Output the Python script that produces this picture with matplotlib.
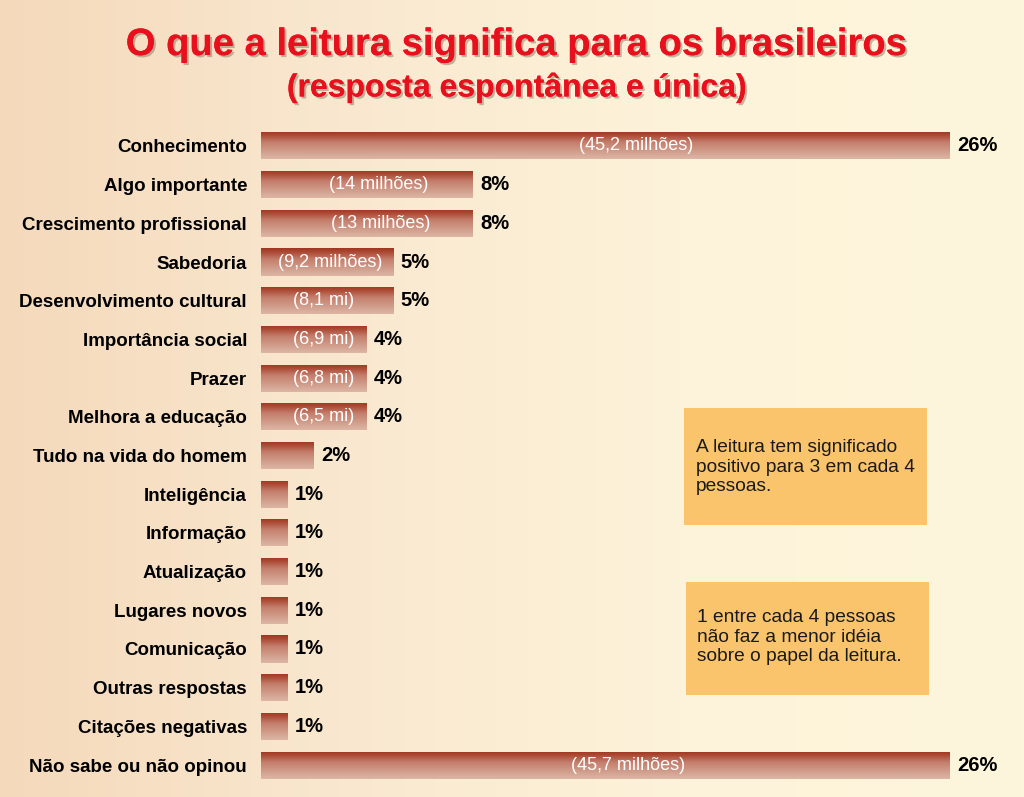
import numpy as np
import matplotlib.pyplot as plt
import matplotlib.patheffects as pe
from matplotlib.colors import LinearSegmentedColormap
from matplotlib.patches import Rectangle

# data
categories = ['Conhecimento', 'Algo importante', 'Crescimento profissional',
              'Sabedoria', 'Desenvolvimento cultural', 'Importância social',
              'Prazer', 'Melhora a educação', 'Tudo na vida do homem',
              'Inteligência', 'Informação', 'Atualização', 'Lugares novos',
              'Comunicação', 'Outras respostas', 'Citações negativas',
              'Não sabe ou não opinou']
percent = [26, 8, 8, 5, 5, 4, 4, 4, 2, 1, 1, 1, 1, 1, 1, 1, 26]
inner_labels = ['(45,2 milhões)', '(14 milhões)', '(13 milhões)', '(9,2 milhões)',
                '(8,1 mi)', '(6,9 mi)', '(6,8 mi)', '(6,5 mi)',
                '', '', '', '', '', '', '', '', '(45,7 milhões)']
# small nudges of the inner labels from the bar middle (style only)
inner_dx = [1.15, 0.45, 0.5, 0.1, -0.15, 0.35, 0.35, 0.35,
            0, 0, 0, 0, 0, 0, 0, 0, 0.85]

plt.rcParams['font.family'] = ['Liberation Sans', 'DejaVu Sans']

fig = plt.figure(figsize=(10.24, 7.97), dpi=100)

# background gradient
bg = fig.add_axes([0, 0, 1, 1], zorder=-10)
bg_cmap = LinearSegmentedColormap.from_list('bg', ['#f5d9bb', '#f9e8cf', '#fdf3da', '#fef6dc'])
bg.imshow(np.linspace(0, 1, 256)[None, :], cmap=bg_cmap, aspect='auto', extent=(0, 1, 0, 1))
bg.axis('off')

ax = fig.add_axes([261 / 1024, 1 - 784.4 / 797, (950 - 261) / 1024, (784.4 - 126.6) / 797])
ax.set_facecolor('none')

y = np.arange(len(categories))
bars = ax.barh(y, percent, height=0.7, color='none', edgecolor='none')

bar_cmap = LinearSegmentedColormap.from_list(
    'bar', [(0, '#9e3622'), (0.12, '#aa4630'), (0.4, '#c47e6c'), (1, '#dcb6a6')])
grad = np.linspace(0, 1, 100)[:, None]
for b in bars:
    x0, y0 = b.get_x(), b.get_y()
    w, h = b.get_width(), b.get_height()
    im = ax.imshow(grad, cmap=bar_cmap, aspect='auto',
                   extent=(x0, x0 + w, y0 + h, y0), zorder=2)
    im.set_clip_path(b)

ax.set_xlim(0, 26)
ax.set_ylim(len(categories) - 0.5, -0.5)

for i, (v, lab, dx) in enumerate(zip(percent, inner_labels, inner_dx)):
    ax.annotate(f'{v}%', (v, i), xytext=(5, 0), textcoords='offset points',
                va='center', ha='left', fontsize=14.5, fontweight='bold',
                color='black', zorder=3)
    if lab:
        ax.text(v / 2 + dx, i, lab, va='center', ha='center', fontsize=13,
                color='white', zorder=3)

ax.set_yticks(y)
ax.set_yticklabels(categories, fontsize=13.5, fontweight='bold')
ax.tick_params(axis='y', length=0, pad=10)
ax.set_xticks([])
for s in ax.spines.values():
    s.set_visible(False)

# titles
shadow = [pe.withSimplePatchShadow(offset=(1.5, -1.5), shadow_rgbFace='#7a6a5a', alpha=0.45),
          pe.Normal()]
fig.text(0.505, 0.9435, 'O que a leitura significa para os brasileiros', ha='center',
         va='center', fontsize=27.5, fontweight='bold', color='#e8101c', path_effects=shadow)
fig.text(0.505, 0.8896, '(resposta espontânea e única)', ha='center', va='center',
         fontsize=23, fontweight='bold', color='#e8101c', path_effects=shadow)

# note boxes
fig.patches.append(Rectangle((684 / 1024, 1 - 525 / 797), 243 / 1024, 117 / 797,
                             transform=fig.transFigure, facecolor='#f9c46c',
                             edgecolor='none', zorder=1))
fig.patches.append(Rectangle((686 / 1024, 1 - 695 / 797), 243 / 1024, 113 / 797,
                             transform=fig.transFigure, facecolor='#f9c46c',
                             edgecolor='none', zorder=1))
fig.text(696 / 1024, 1 - 467 / 797, 'A leitura tem significado\npositivo para 3 em cada 4\npessoas.',
         ha='left', va='center', fontsize=13.8, linespacing=1.2, color='#1a1a1a')
fig.text(697 / 1024, 1 - 637 / 797, '1 entre cada 4 pessoas\nnão faz a menor idéia\nsobre o papel da leitura.',
         ha='left', va='center', fontsize=13.8, linespacing=1.2, color='#1a1a1a')

fig.savefig('out.png', dpi=100)
